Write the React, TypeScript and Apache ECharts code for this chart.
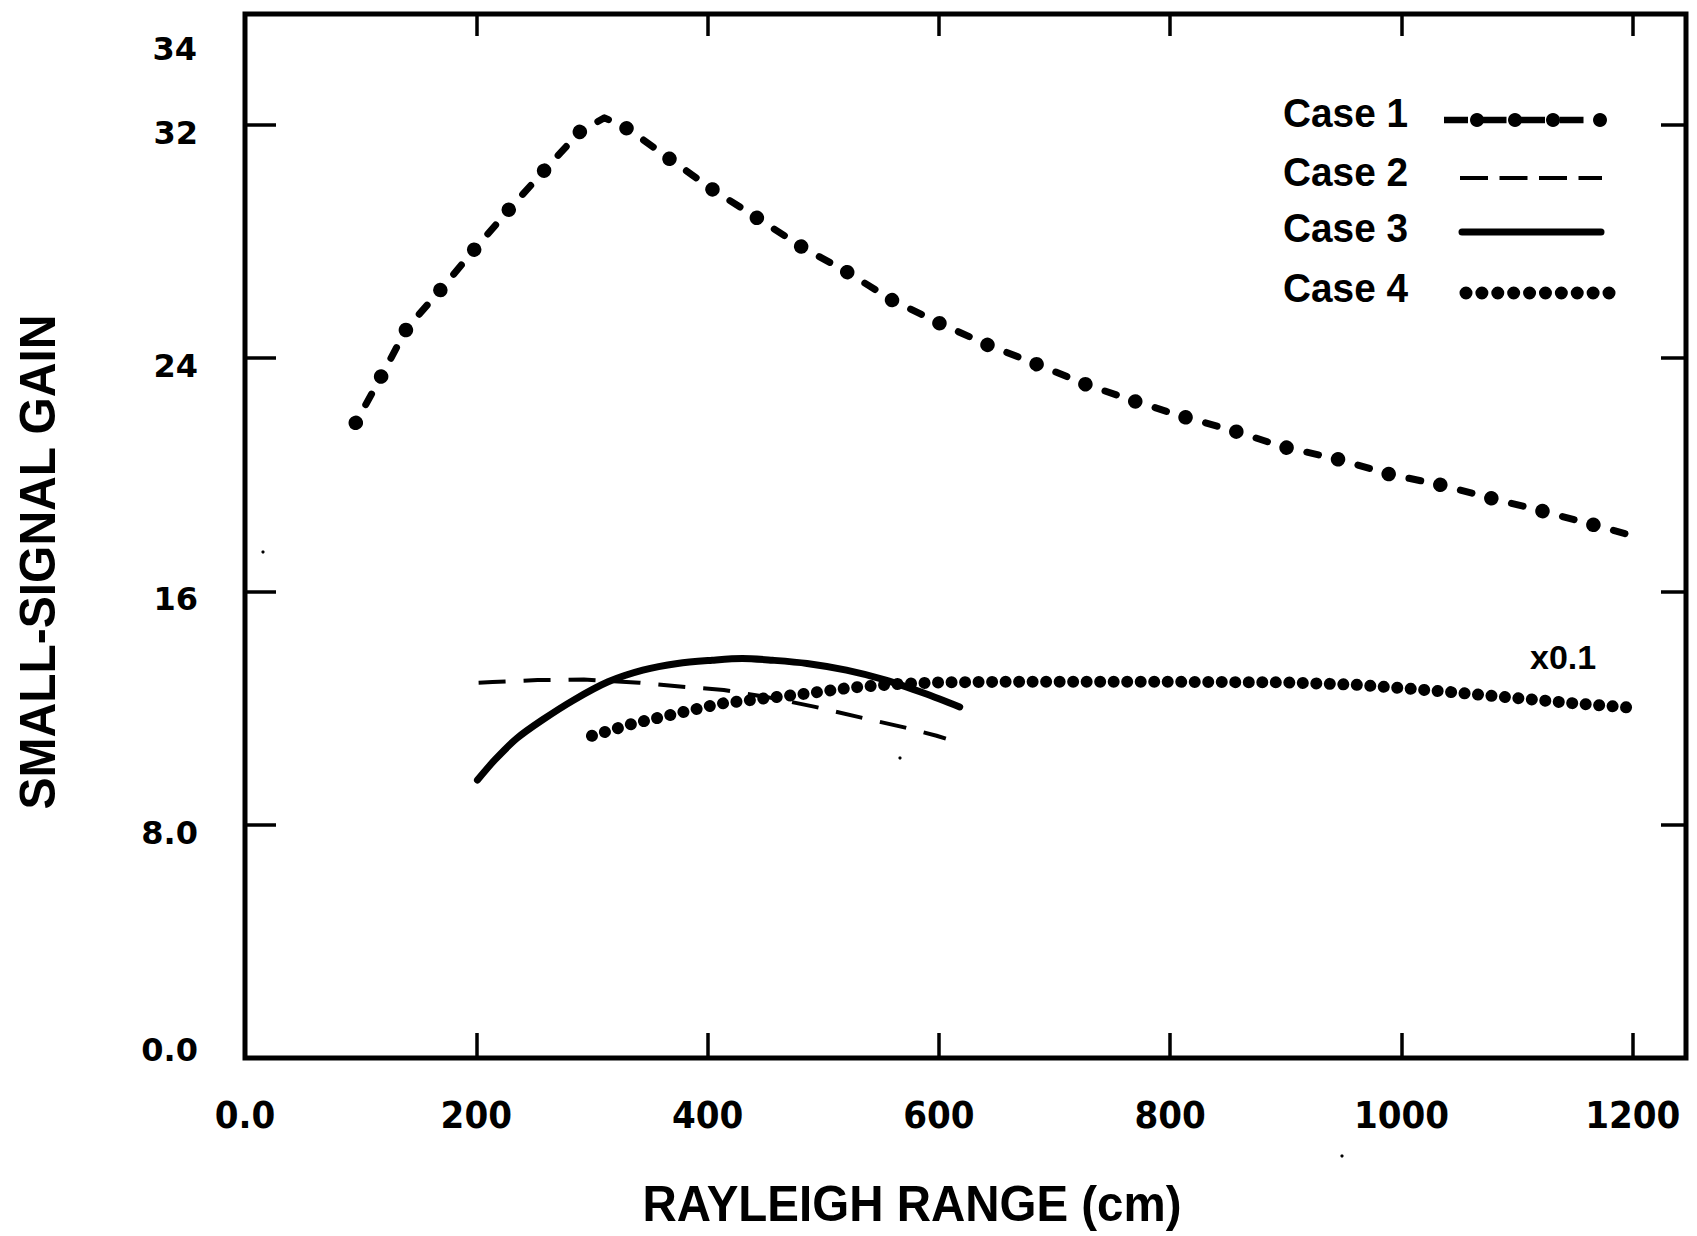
import { useEffect, useRef } from 'react';
import * as echarts from 'echarts';

// ---- data ----
const case1X = [95.8, 118.3, 139.9, 169.3, 198.4, 228.4, 258.4, 289.2, 310.8, 331.6, 367.6, 405.1, 442.6, 481.6, 520.2, 559.5, 599.8, 641, 684, 727, 770.2, 812.3, 855.4, 898.4, 944.3, 989.3, 1034.2, 1077.3, 1121.3, 1163.4, 1197.2];
const case1Y = [21.78, 23.41, 25.02, 26.35, 27.73, 29.1, 30.42, 31.75, 32.24, 31.85, 30.82, 29.76, 28.81, 27.81, 26.96, 25.99, 25.21, 24.47, 23.8, 23.1, 22.51, 21.98, 21.5, 20.95, 20.54, 20.02, 19.65, 19.2, 18.76, 18.31, 17.94];

const case2X = [202, 214, 253, 293, 341, 376, 414, 455, 493, 532, 571, 598, 606];
const case2Y = [12.87, 12.89, 12.96, 12.98, 12.87, 12.74, 12.62, 12.35, 12.04, 11.68, 11.33, 11.05, 10.95];

const case3X = [201, 216, 235, 257, 284, 314, 344, 374, 404, 430, 456, 486, 520, 554, 588, 618];
const case3Y = [9.53, 10.22, 10.96, 11.59, 12.27, 12.9, 13.3, 13.53, 13.64, 13.7, 13.64, 13.53, 13.3, 12.96, 12.5, 12.04];

const case4X = [300, 336, 374, 411, 449, 486, 524, 561, 600, 655, 720, 800, 900, 960, 1005, 1042, 1100, 1150, 1202];
const case4Y = [11.05, 11.47, 11.82, 12.15, 12.33, 12.5, 12.7, 12.82, 12.88, 12.9, 12.9, 12.9, 12.88, 12.8, 12.67, 12.55, 12.34, 12.16, 12.0];

const legendNames = ['Case 1', 'Case 2', 'Case 3', 'Case 4'];
const xTickLabels = ['0.0', '200', '400', '600', '800', '1000', '1200'];
const yTickLabels = ['0.0', '8.0', '16', '24', '32'];
const yExtraLabel = '34';
const xName = 'RAYLEIGH RANGE (cm)';
const yName = 'SMALL-SIGNAL GAIN';
const scaleNote = 'x0.1';

const X_MAX = 1246;
const Y_MAX = 35.8;

const pairs = (xs: number[], ys: number[]) => xs.map((x, i) => [x, ys[i]]);

const BOLD = 'Liberation Sans, Arial, sans-serif';
const NARROW = "'Liberation Sans Narrow', 'Arial Narrow', 'DejaVu Sans Condensed', sans-serif";
const HEAVY = "'DejaVu Sans', sans-serif";

const P1 = 52.75; // case 1 pattern period (px)

export default function App() {
  const ref = useRef<HTMLDivElement>(null);

  useEffect(() => {
    if (!ref.current) return;
    const chart = echarts.init(ref.current, null, { renderer: 'svg' });

    const tickStyle = { color: '#000', width: 3.5 };

    const legendY = [112.5, 172, 228, 288];
    const legendGraphics: any[] = [];
    legendNames.forEach((n, i) => {
      legendGraphics.push({
        type: 'text', x: 1283, y: legendY[i], scaleX: 0.97,
        style: { text: n, fontFamily: BOLD, fontWeight: 'bold', fontSize: 40, fill: '#000', align: 'left', verticalAlign: 'middle' },
      });
    });
    // Case 1 sample
    legendGraphics.push({
      type: 'line', shape: { x1: 1444, y1: 120, x2: 1588, y2: 120 },
      style: { stroke: '#000', lineWidth: 6.5, lineDash: [24, 14.5], lineCap: 'butt' },
    });
    [1477, 1515, 1553, 1600].forEach((cx) => {
      legendGraphics.push({ type: 'circle', shape: { cx, cy: 120, r: 7 }, style: { fill: '#000' } });
    });
    // Case 2 sample
    legendGraphics.push({
      type: 'line', shape: { x1: 1460, y1: 178, x2: 1602, y2: 178 },
      style: { stroke: '#000', lineWidth: 4, lineDash: [28, 11.5] },
    });
    // Case 3 sample
    legendGraphics.push({
      type: 'line', shape: { x1: 1462, y1: 232, x2: 1601, y2: 232 },
      style: { stroke: '#000', lineWidth: 7, lineCap: 'round' },
    });
    // Case 4 sample
    legendGraphics.push({
      type: 'line', shape: { x1: 1466, y1: 293, x2: 1612, y2: 293 },
      style: { stroke: '#000', lineWidth: 13, lineDash: [0.01, 15.88], lineCap: 'round' },
    });

    // small specks present in the scanned reference
    const specks = [[263, 552], [900, 758], [1342, 1156]].map(([cx, cy]) => ({
      type: 'circle', shape: { cx, cy, r: 1.6 }, style: { fill: '#000' },
    }));

    const option: any = {
      animation: false,
      backgroundColor: '#ffffff',
      grid: {
        left: 245, top: 14, right: 11, bottom: 178,
        show: true, borderColor: '#000', borderWidth: 5, backgroundColor: 'transparent',
      },
      xAxis: [
        {
          type: 'value', min: 0, max: X_MAX, interval: 200, position: 'bottom',
          axisLine: { show: false, onZero: false }, splitLine: { show: false },
          axisTick: { inside: true, length: 25, lineStyle: tickStyle },
          axisLabel: {
            showMaxLabel: false,
            formatter: (v: number) => xTickLabels[Math.round(v / 200)] ?? '',
            margin: 38, fontSize: 38, fontWeight: 'bold', fontFamily: NARROW, color: '#000',
          },
        },
        {
          type: 'value', min: 0, max: X_MAX, interval: 200, position: 'top',
          axisLine: { show: false, onZero: false }, splitLine: { show: false },
          axisTick: { inside: true, length: 22, lineStyle: tickStyle },
          axisLabel: { show: false },
        },
      ],
      yAxis: [
        {
          type: 'value', min: 0, max: Y_MAX, interval: 8, position: 'left',
          axisLine: { show: false, onZero: false }, splitLine: { show: false },
          axisTick: { inside: true, length: 31, lineStyle: tickStyle },
          axisLabel: {
            showMaxLabel: false,
            margin: 47,
            formatter: (v: number) => {
              const t = yTickLabels[Math.round(v / 8)];
              if (t === undefined) return '';
              return v === 0 ? `{lo|${t}}` : `{hi|${t}}`;
            },
            rich: {
              lo: { fontSize: 32, fontWeight: 'bold', fontFamily: HEAVY, color: '#000', padding: [0, 0, 16, 0] },
              hi: { fontSize: 32, fontWeight: 'bold', fontFamily: HEAVY, color: '#000', padding: [16, 0, 0, 0] },
            },
          },
        },
        {
          type: 'value', min: 0, max: Y_MAX, interval: 8, position: 'right',
          axisLine: { show: false, onZero: false }, splitLine: { show: false },
          axisTick: { inside: true, length: 25, lineStyle: tickStyle },
          axisLabel: { show: false },
        },
      ],
      series: [
        {
          name: 'Case 1 dashes', type: 'line', data: pairs(case1X, case1Y), symbol: 'none', silent: true,
          lineStyle: { color: '#000', width: 7, type: [12, P1 - 12], dashOffset: P1 / 2 + 6, cap: 'round', join: 'round' },
        },
        {
          name: 'Case 1 dots', type: 'line', data: pairs(case1X, case1Y), symbol: 'none', silent: true,
          lineStyle: { color: '#000', width: 14.5, type: [0.01, P1 - 0.01], cap: 'round', join: 'round' },
        },
        {
          name: 'Case 2', type: 'line', data: pairs(case2X, case2Y), symbol: 'none', silent: true,
          lineStyle: { color: '#000', width: 4, type: [27, 18], join: 'round' },
        },
        {
          name: 'Case 3', type: 'line', data: pairs(case3X, case3Y), symbol: 'none', silent: true, smooth: 0.3,
          lineStyle: { color: '#000', width: 7, type: 'solid', cap: 'round', join: 'round' },
        },
        {
          name: 'Case 4', type: 'line', data: pairs(case4X, case4Y), symbol: 'none', silent: true,
          lineStyle: { color: '#000', width: 12, type: [0.01, 13.5], cap: 'round', join: 'round' },
        },
      ],
      graphic: [
        {
          type: 'text', x: 197, y: 49,
          style: { text: yExtraLabel, fontFamily: HEAVY, fontWeight: 'bold', fontSize: 32, fill: '#000', align: 'right', verticalAlign: 'middle' },
        },
        {
          type: 'text', x: 38, y: 562, rotation: Math.PI / 2, scaleX: 0.96,
          style: { text: yName, fontFamily: BOLD, fontWeight: 'bold', fontSize: 50, fill: '#000', align: 'center', verticalAlign: 'middle' },
        },
        {
          type: 'text', x: 912, y: 1204, scaleX: 0.95,
          style: { text: xName, fontFamily: BOLD, fontWeight: 'bold', fontSize: 50, fill: '#000', align: 'center', verticalAlign: 'middle' },
        },
        {
          type: 'text', x: 1530, y: 657,
          style: { text: scaleNote, fontFamily: BOLD, fontWeight: 'bold', fontSize: 34, fill: '#000', align: 'left', verticalAlign: 'middle' },
        },
        ...legendGraphics,
        ...specks,
      ],
    };

    chart.setOption(option);
    return () => chart.dispose();
  }, []);

  return (
    <div
      ref={ref}
      style={{ position: 'absolute', left: 0, top: 0, width: 1697, height: 1236, background: '#fff' }}
    />
  );
}
